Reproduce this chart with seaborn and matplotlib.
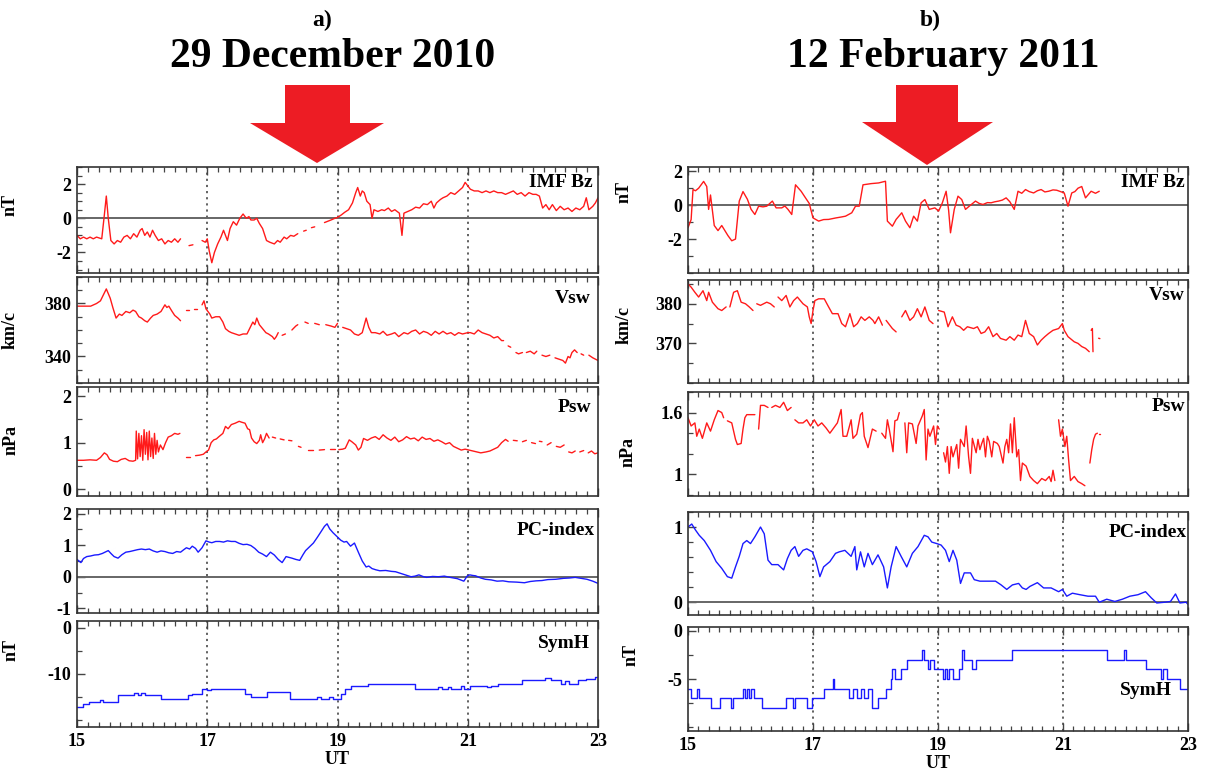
import numpy as np
import pandas as pd
import matplotlib
matplotlib.use('Agg')
import matplotlib.pyplot as plt
import seaborn as sns
from matplotlib.patches import Polygon
from matplotlib.ticker import FixedLocator, MultipleLocator, FuncFormatter

G = (np.nan, np.nan)  # data gap

# ---------------- a) 29 December 2010 ----------------
A_IMF = [(15.00,-1.0),(15.05,-1.2),(15.10,-1.1),(15.15,-1.2),(15.20,-1.1),(15.25,-1.2),(15.30,-1.1),
         (15.38,-1.2),(15.42,0.2),(15.45,1.3),(15.48,0.0),(15.52,-1.3),(15.57,-1.5),(15.62,-1.3),
         (15.67,-1.4),(15.72,-1.1),(15.77,-1.0),(15.82,-1.2),(15.87,-0.9),(15.92,-1.1),(15.97,-0.7),
         (16.00,-0.6),(16.04,-1.0),(16.08,-0.8),(16.12,-1.1),(16.16,-0.7),(16.20,-1.0),(16.25,-1.3),
         (16.30,-1.2),(16.35,-1.5),(16.40,-1.3),(16.45,-1.4),(16.50,-1.2),(16.55,-1.4),(16.59,-1.2),G,
         (16.72,-1.6),(16.78,-1.55),G,
         (16.92,-1.3),(16.97,-1.4),(17.00,-1.2),(17.03,-1.9),(17.07,-2.6),(17.11,-2.0),(17.16,-1.5),
         (17.21,-1.1),(17.25,-0.7),(17.28,-1.0),(17.31,-1.3),(17.35,-0.6),(17.40,-0.2),(17.45,-0.4),
         (17.50,0.0),(17.55,0.25),(17.60,0.0),(17.64,0.1),(17.67,-0.1),(17.72,-0.1),(17.76,0.0),
         (17.80,-0.3),(17.85,-0.6),(17.91,-1.3),(17.96,-1.4),(18.03,-1.5),(18.08,-1.3),(18.12,-1.4),
         (18.18,-1.1),(18.22,-1.2),(18.28,-1.0),(18.33,-1.05),(18.39,-0.9),G,
         (18.48,-0.75),(18.52,-0.7),G,(18.60,-0.55),(18.65,-0.5),G,
         (18.80,-0.25),(18.90,-0.1),(18.96,0.0),(19.00,0.05),(19.06,0.2),(19.11,0.35),(19.17,0.5),
         (19.23,0.9),(19.28,1.5),(19.31,1.8),(19.35,1.3),(19.38,1.6),(19.41,1.5),(19.45,1.0),
         (19.50,0.8),(19.53,0.0),(19.56,0.5),(19.62,0.4),(19.68,0.5),(19.72,0.45),(19.78,0.6),
         (19.83,0.4),(19.88,0.5),(19.95,0.3),(19.99,-1.0),(20.02,0.3),(20.08,0.4),(20.14,0.5),
         (20.20,0.65),(20.26,0.6),(20.32,0.85),(20.38,0.8),(20.44,1.0),(20.48,0.6),(20.52,0.9),
         (20.58,1.1),(20.62,1.2),(20.68,1.3),(20.74,1.5),(20.80,1.4),(20.86,1.6),(20.92,1.8),
         (20.96,2.1),(21.00,1.9),(21.04,1.7),(21.10,1.6),(21.16,1.6),(21.22,1.5),(21.28,1.6),
         (21.34,1.5),(21.40,1.6),(21.46,1.5),(21.52,1.5),(21.58,1.4),(21.64,1.5),(21.70,1.6),
         (21.76,1.4),(21.82,1.5),(21.88,1.3),(21.94,1.5),(22.00,1.4),(22.05,1.4),(22.10,1.3),
         (22.15,0.6),(22.20,0.8),(22.25,0.5),(22.30,0.8),(22.36,0.45),(22.42,0.7),(22.48,0.5),
         (22.54,0.6),(22.60,0.4),(22.66,0.6),(22.72,0.5),(22.78,0.7),(22.82,1.2),(22.86,0.5),
         (22.92,0.7),(22.96,0.9),(23.00,1.2)]

A_VSW = [(15.00,378),(15.10,378),(15.21,378),(15.30,380),(15.36,382),(15.45,391),(15.51,384),
         (15.55,377),(15.60,369),(15.65,372),(15.69,371),(15.75,374),(15.81,373),(15.86,375),
         (15.90,374),(15.95,370),(15.99,369),(16.04,367),(16.08,366),(16.13,369),(16.17,371),
         (16.23,372),(16.29,374),(16.35,379),(16.38,377),(16.41,378),(16.46,374),(16.50,371),
         (16.55,369),(16.59,367),G,(16.68,375),(16.72,375),G,(16.80,376),(16.84,376),G,
         (16.92,379),(16.95,382),(16.98,376),(17.01,374),(17.04,372),(17.07,369),(17.13,370),
         (17.19,370),(17.24,366),(17.28,361),(17.33,359),(17.37,358),(17.43,357),(17.49,356),
         (17.55,357),(17.61,357),(17.66,362),(17.70,366),(17.73,364),(17.76,369),(17.80,364),
         (17.85,361),(17.90,358),(17.94,357),(18.00,355),(18.03,353),(18.06,355),(18.09,358),G,
         (18.15,356),(18.20,357),G,(18.30,360),(18.36,363),(18.39,364),G,(18.50,366),(18.55,365),G,
         (18.65,365),(18.72,364),G,(18.82,364),(18.90,363),(18.96,362),(19.00,365),G,
         (19.08,362),(19.14,361),(19.20,360),(19.26,357),(19.32,356),(19.38,358),(19.44,369),
         (19.48,362),(19.52,358),(19.58,358),(19.65,357),(19.70,359),(19.76,356),(19.83,357),
         (19.88,358),(19.94,355),(20.02,358),(20.08,357),(20.14,359),(20.20,360),(20.26,357),
         (20.32,359),(20.38,358),(20.44,356),(20.50,359),(20.56,357),(20.62,359),(20.68,357),
         (20.74,358),(20.80,356),(20.86,358),(20.92,357),(21.00,358),(21.04,358),(21.10,357),
         (21.16,360),(21.22,358),(21.28,357),(21.34,356),(21.40,354),(21.46,355),(21.52,352),
         (21.55,352),G,(21.62,348),(21.66,347),G,(21.74,343),(21.78,342),(21.84,343),G,
         (21.90,343),(21.96,344),(22.02,342),(22.06,344),G,(22.14,341),(22.20,340),(22.26,341),G,
         (22.34,339),(22.40,338),(22.46,337),(22.50,335),(22.54,340),(22.57,339),(22.60,343),
         (22.64,345),(22.68,343),G,(22.74,342),(22.78,341),G,(22.86,341),(22.92,339),(22.96,338),
         (23.00,337)]

A_PSW = [(15.00,0.62),(15.10,0.62),(15.20,0.63),(15.30,0.62),(15.36,0.68),(15.42,0.78),(15.46,0.74),
         (15.50,0.64),(15.56,0.60),(15.62,0.59),(15.68,0.64),(15.74,0.66),(15.80,0.61),(15.86,0.60),
         (15.90,0.62),(15.91,1.25),(15.93,0.65),(15.95,1.20),(15.97,0.70),(15.99,1.15),(16.01,0.62),
         (16.03,1.28),(16.05,0.75),(16.07,1.22),(16.09,0.63),(16.11,1.25),(16.13,0.70),(16.15,1.10),
         (16.17,0.66),(16.19,1.20),(16.21,0.75),(16.23,1.05),(16.25,0.80),(16.28,0.95),(16.32,0.85),
         (16.36,1.00),(16.40,1.12),(16.45,1.15),(16.50,1.20),(16.55,1.18),(16.58,1.20),G,
         (16.68,0.70),(16.74,0.70),G,(16.82,0.72),(16.88,0.73),(16.94,0.75),(16.98,0.80),(17.02,0.84),
         (17.06,1.00),(17.10,1.06),(17.14,1.08),(17.18,1.13),(17.24,1.20),(17.28,1.35),(17.32,1.30),
         (17.37,1.39),(17.43,1.42),(17.49,1.46),(17.53,1.44),(17.58,1.42),(17.62,1.30),(17.65,1.28),
         (17.68,1.10),(17.72,1.02),(17.76,0.98),(17.80,1.05),(17.82,1.17),(17.85,1.00),(17.88,1.08),
         (17.91,1.20),(17.95,1.10),G,(18.00,1.12),(18.05,1.10),G,(18.12,1.08),(18.18,1.06),G,
         (18.25,1.05),(18.30,1.04),G,(18.40,0.92),(18.44,0.90),G,(18.55,0.85),(18.62,0.85),G,
         (18.72,0.84),(18.80,0.85),G,(18.88,0.86),(18.96,0.86),G,(19.02,0.85),(19.08,0.86),
         (19.12,0.88),(19.18,1.06),(19.22,1.02),(19.28,0.95),(19.32,0.84),(19.36,0.90),(19.40,1.09),
         (19.46,1.05),(19.52,1.10),(19.58,1.13),(19.64,1.07),(19.70,1.17),(19.76,1.10),(19.82,1.05),
         (19.88,1.12),(19.94,1.02),(20.00,1.06),(20.06,1.13),(20.12,1.08),(20.18,1.10),(20.24,1.04),
         (20.30,1.12),(20.36,1.07),(20.42,1.09),(20.48,1.03),(20.54,1.06),(20.60,1.02),(20.66,0.97),
         (20.72,1.00),(20.78,0.92),(20.84,0.88),(20.90,0.84),(20.96,0.86),(21.02,0.84),(21.08,0.82),
         (21.14,0.80),(21.20,0.78),(21.28,0.80),(21.34,0.82),(21.40,0.86),(21.46,0.90),(21.52,1.00),
         (21.58,1.07),(21.62,1.03),G,(21.70,1.05),(21.76,1.04),G,(21.84,1.02),(21.90,1.05),G,
         (21.98,1.00),(22.04,0.98),G,(22.10,1.03),(22.14,1.02),G,(22.22,0.95),(22.28,1.00),G,
         (22.36,0.92),(22.42,0.90),(22.48,0.95),G,(22.55,0.80),(22.60,0.78),(22.65,0.82),G,
         (22.72,0.80),(22.78,0.83),G,(22.85,0.78),(22.90,0.82),(22.95,0.76),(23.00,0.78)]

A_PC = [(15.00,0.55),(15.06,0.45),(15.10,0.58),(15.15,0.64),(15.21,0.66),(15.27,0.69),(15.33,0.70),
        (15.39,0.74),(15.44,0.79),(15.48,0.83),(15.53,0.72),(15.57,0.64),(15.63,0.59),(15.69,0.70),
        (15.75,0.78),(15.81,0.80),(15.87,0.83),(15.93,0.86),(15.99,0.88),(16.05,0.86),(16.11,0.88),
        (16.17,0.82),(16.23,0.78),(16.29,0.82),(16.35,0.80),(16.41,0.76),(16.47,0.74),(16.53,0.80),
        (16.59,0.78),(16.64,0.86),(16.68,0.92),(16.73,0.88),(16.77,0.97),(16.82,0.90),(16.86,0.78),
        (16.92,0.92),(16.98,1.14),(17.03,1.10),(17.07,1.08),(17.13,1.12),(17.19,1.12),(17.25,1.10),
        (17.31,1.14),(17.37,1.12),(17.43,1.12),(17.49,1.06),(17.55,1.02),(17.61,1.03),(17.67,0.99),
        (17.73,0.90),(17.79,0.78),(17.85,0.72),(17.91,0.64),(17.97,0.78),(18.03,0.69),(18.09,0.55),
        (18.15,0.45),(18.21,0.64),(18.30,0.59),(18.36,0.55),(18.42,0.52),(18.47,0.70),(18.51,0.83),
        (18.57,0.95),(18.63,1.07),(18.69,1.25),(18.75,1.44),(18.80,1.60),(18.84,1.68),(18.88,1.52),
        (18.93,1.40),(18.99,1.28),(19.05,1.16),(19.10,1.10),(19.14,1.12),(19.20,0.97),(19.26,1.07),
        (19.32,0.78),(19.38,0.50),(19.44,0.31),(19.48,0.34),(19.53,0.26),(19.59,0.22),(19.65,0.19),
        (19.74,0.20),(19.83,0.17),(19.89,0.16),(19.95,0.12),(20.04,0.06),(20.13,0.00),(20.19,0.02),
        (20.25,0.06),(20.31,0.01),(20.37,-0.02),(20.46,0.01),(20.55,0.00),(20.64,0.02),(20.73,-0.02),
        (20.84,-0.06),(20.94,-0.14),(20.99,0.02),(21.03,0.06),(21.08,0.04),(21.12,0.03),(21.20,-0.04),
        (21.27,-0.08),(21.36,-0.10),(21.45,-0.14),(21.54,-0.13),(21.63,-0.16),(21.75,-0.17),
        (21.87,-0.19),(21.96,-0.15),(22.05,-0.13),(22.14,-0.12),(22.23,-0.09),(22.35,-0.08),
        (22.47,-0.05),(22.56,-0.04),(22.65,-0.02),(22.74,-0.05),(22.83,-0.08),(22.92,-0.14),
        (23.00,-0.21)]

A_SYMH = [(15.00,-17.1),(15.09,-16.6),(15.18,-16.1),(15.36,-15.7),(15.40,-16.1),(15.63,-14.6),
          (15.87,-14.1),(15.93,-14.6),(15.99,-14.1),(16.05,-14.6),(16.29,-15.4),(16.71,-14.6),
          (16.77,-14.3),(16.92,-13.2),(17.00,-13.5),(17.05,-13.2),(17.58,-14.3),(17.67,-15.0),
          (17.91,-13.9),(18.27,-15.5),(18.69,-15.0),(18.75,-15.5),(18.87,-15.0),(18.93,-15.5),
          (19.05,-14.3),(19.11,-13.2),(19.20,-12.5),(19.47,-12.1),(20.19,-13.2),(20.55,-12.9),
          (20.60,-13.2),(20.70,-12.9),(20.75,-13.2),(20.90,-12.5),(20.95,-13.2),(21.03,-12.5),
          (21.30,-12.9),(21.35,-12.5),(21.47,-12.1),(21.83,-11.4),(22.19,-10.9),(22.28,-11.4),
          (22.43,-12.1),(22.50,-11.6),(22.55,-12.1),(22.70,-11.4),(22.82,-11.0),(22.95,-10.7),
          (23.00,-10.7)]

# ---------------- b) 12 February 2011 ----------------
B_IMF = [(15.00,-1.33),(15.05,-0.85),(15.08,0.92),(15.12,0.85),(15.17,1.0),(15.21,1.2),(15.25,1.4),
         (15.30,1.1),(15.33,-0.25),(15.36,0.6),(15.42,-1.2),(15.48,-1.5),(15.54,-1.2),(15.59,-1.5),
         (15.64,-1.8),(15.70,-2.1),(15.76,-2.0),(15.82,0.24),(15.88,0.8),(15.95,0.35),(16.01,-0.25),
         (16.07,-0.55),(16.13,-0.06),(16.20,-0.1),(16.26,-0.06),(16.35,0.24),(16.41,-0.16),
         (16.50,-0.16),(16.55,-0.05),(16.60,-0.25),(16.66,-0.55),(16.72,1.2),(16.81,0.82),
         (16.88,0.43),(16.94,0.1),(17.00,-0.75),(17.09,-0.94),(17.17,-0.85),(17.25,-0.84),
         (17.37,-0.75),(17.45,-0.7),(17.52,-0.65),(17.62,-0.45),(17.68,-0.06),(17.74,-0.06),
         (17.80,1.2),(17.93,1.27),(18.05,1.31),(18.16,1.41),(18.19,-0.94),(18.27,-1.24),
         (18.33,-0.84),(18.42,-0.45),(18.48,-0.94),(18.55,-1.33),(18.61,-0.65),(18.67,-0.94),
         (18.73,0.14),(18.79,0.33),(18.86,-0.25),(18.95,-0.16),(19.01,-0.35),(19.07,0.14),
         (19.13,0.82),(19.17,-0.3),(19.20,-1.63),(19.26,-0.25),(19.32,0.53),(19.38,0.33),
         (19.44,-0.25),(19.50,-0.06),(19.60,0.24),(19.66,0.1),(19.72,0.04),(19.79,0.15),
         (19.85,0.14),(19.91,0.2),(19.97,0.24),(20.03,0.3),(20.09,0.43),(20.15,0.2),(20.19,-0.06),
         (20.22,-0.25),(20.28,0.82),(20.34,0.7),(20.40,0.92),(20.46,0.8),(20.53,0.72),(20.59,0.85),
         (20.65,0.92),(20.71,0.78),(20.77,0.82),(20.84,0.9),(20.90,0.88),(20.96,0.8),(21.02,0.72),
         (21.08,-0.06),(21.14,0.72),(21.19,0.8),(21.24,1.0),(21.30,1.1),(21.36,0.43),(21.45,0.82),
         (21.52,0.7),(21.58,0.82)]

B_VSW = [(15.00,385.0),(15.05,384.2),(15.11,382.9),(15.17,381.7),(15.24,383.3),(15.30,380.8),
         (15.33,382.9),(15.39,380.4),(15.48,378.75),(15.54,378.3),(15.61,379.2),G,
         (15.67,379.2),(15.73,382.9),(15.79,383.3),(15.85,380.4),(15.92,380.0),(15.98,379.2),
         (16.04,378.3),G,(16.10,380.0),(16.16,379.6),(16.26,380.4),(16.32,380.0),(16.38,379.2),G,
         (16.44,381.7),(16.50,380.8),(16.57,382.1),(16.63,379.2),(16.69,380.8),(16.75,381.7),
         (16.84,380.0),(16.91,379.2),(16.94,376.7),(16.97,375.0),(17.00,378.3),(17.03,380.8),
         (17.09,381.25),(17.18,381.25),(17.25,379.2),(17.31,377.5),(17.40,377.5),(17.46,375.0),
         (17.52,374.2),(17.59,377.5),(17.65,374.2),(17.71,375.0),(17.77,376.7),(17.83,375.8),
         (17.90,376.7),(17.96,375.8),(17.99,375.0),(18.05,376.7),(18.11,374.6),G,
         (18.17,375.8),(18.27,373.75),(18.33,372.9),G,(18.42,376.7),(18.48,378.3),(18.55,375.8),
         (18.61,376.7),(18.67,378.75),(18.73,376.7),(18.79,379.2),(18.86,375.8),(18.92,375.0),G,
         (19.01,378.3),(19.10,377.9),(19.16,374.2),(19.23,376.7),(19.29,374.6),(19.35,374.2),
         (19.41,373.3),(19.47,374.2),(19.57,373.75),(19.63,374.2),(19.69,372.5),(19.75,372.9),
         (19.81,374.2),(19.88,371.7),(19.94,372.5),(20.00,371.25),(20.09,370.8),(20.15,371.7),
         (20.22,370.8),(20.28,372.1),(20.34,371.7),(20.40,375.8),(20.46,372.5),(20.53,371.7),
         (20.59,369.6),(20.65,370.8),(20.71,371.7),(20.77,372.5),(20.84,373.3),(20.93,373.75),
         (20.99,375.0),(21.02,373.3),(21.08,371.7),(21.18,370.4),(21.24,370.0),(21.30,369.2),
         (21.36,368.75),(21.42,367.9),G,(21.45,373.3),(21.47,373.75),(21.48,367.9),G,
         (21.57,371.3),(21.59,371.2)]

B_PSW = [(15.00,1.55),(15.05,1.47),(15.11,1.50),(15.14,1.37),(15.18,1.44),(15.23,1.35),(15.30,1.50),
         (15.36,1.42),(15.42,1.53),(15.48,1.62),(15.54,1.60),(15.57,1.55),G,(15.63,1.52),
         (15.70,1.50),(15.76,1.34),(15.79,1.29),(15.85,1.30),(15.88,1.44),(15.91,1.55),(15.94,1.58),
         (16.00,1.58),(16.07,1.58),G,(16.13,1.44),(16.16,1.67),(16.22,1.67),(16.28,1.65),G,
         (16.34,1.65),(16.40,1.67),(16.47,1.65),(16.53,1.70),(16.59,1.62),(16.65,1.65),G,
         (16.71,1.53),(16.77,1.50),(16.84,1.50),(16.90,1.53),(16.96,1.47),(17.02,1.53),(17.08,1.47),
         (17.14,1.50),(17.21,1.45),(17.27,1.40),(17.33,1.45),(17.39,1.50),(17.45,1.63),(17.48,1.37),
         (17.54,1.37),(17.61,1.53),(17.64,1.35),(17.70,1.39),(17.76,1.58),(17.79,1.60),(17.82,1.37),
         (17.88,1.26),(17.95,1.44),(18.01,1.42),G,(18.10,1.40),(18.16,1.35),(18.19,1.53),
         (18.22,1.44),(18.28,1.22),(18.31,1.52),(18.35,1.53),(18.38,1.60),G,(18.47,1.50),
         (18.50,1.21),(18.53,1.50),(18.59,1.49),(18.65,1.30),(18.68,1.47),(18.75,1.57),(18.78,1.63),
         (18.81,1.14),(18.84,1.44),(18.87,1.37),(18.93,1.47),(18.96,1.29),(18.99,1.47),(19.02,1.44),G,
         (19.09,1.21),(19.12,1.12),(19.15,1.27),(19.18,1.01),(19.21,1.27),(19.24,1.17),(19.30,1.29),
         (19.33,1.06),(19.36,1.34),(19.42,1.27),(19.45,1.47),(19.49,1.17),(19.52,1.01),(19.55,1.35),
         (19.61,1.21),(19.64,1.34),(19.67,1.24),(19.70,1.30),(19.73,1.35),(19.76,1.17),(19.79,1.37),
         (19.82,1.32),(19.86,1.17),(19.89,1.32),(19.95,1.30),(19.98,1.27),(20.04,1.11),(20.07,1.27),
         (20.10,1.34),(20.13,1.21),(20.16,1.49),(20.19,1.21),(20.22,1.55),(20.26,1.17),(20.29,1.24),
         (20.32,0.94),(20.35,1.11),(20.41,1.08),(20.47,0.98),(20.53,0.94),(20.59,0.91),(20.66,0.96),
         (20.72,0.94),(20.78,0.98),(20.81,0.93),(20.84,1.04),(20.87,0.94),G,(20.93,1.53),
         (20.96,1.37),(20.99,1.44),(21.03,1.27),(21.06,1.37),(21.09,1.14),(21.12,0.94),(21.18,0.98),
         (21.24,0.93),(21.30,0.91),(21.35,0.89),G,(21.43,1.11),(21.46,1.24),(21.49,1.34),
         (21.52,1.39),(21.55,1.40),G,(21.57,1.39),(21.59,1.39)]

B_PC = [(15.00,1.00),(15.06,1.04),(15.12,0.96),(15.18,0.89),(15.26,0.82),(15.36,0.69),(15.45,0.54),
        (15.54,0.45),(15.63,0.34),(15.70,0.32),(15.76,0.47),(15.82,0.61),(15.88,0.78),(15.94,0.82),
        (16.00,0.78),(16.07,0.87),(16.16,1.00),(16.22,0.91),(16.28,0.56),(16.34,0.50),(16.44,0.50),
        (16.53,0.43),(16.59,0.58),(16.65,0.69),(16.71,0.74),(16.77,0.61),(16.84,0.69),(16.90,0.71),
        (16.99,0.67),(17.05,0.54),(17.11,0.34),(17.17,0.47),(17.27,0.54),(17.36,0.65),(17.42,0.67),
        (17.51,0.69),(17.61,0.61),(17.67,0.74),(17.70,0.43),(17.76,0.67),(17.82,0.47),(17.88,0.65),
        (17.95,0.50),(18.04,0.63),(18.13,0.47),(18.19,0.19),(18.25,0.47),(18.33,0.74),(18.41,0.61),
        (18.50,0.47),(18.59,0.65),(18.68,0.74),(18.78,0.89),(18.84,0.87),(18.90,0.80),(18.98,0.78),
        (19.05,0.76),(19.12,0.69),(19.18,0.54),(19.24,0.69),(19.30,0.56),(19.36,0.25),(19.42,0.39),
        (19.52,0.39),(19.58,0.30),(19.67,0.28),(19.79,0.28),(19.92,0.28),(20.01,0.23),(20.10,0.17),
        (20.19,0.23),(20.29,0.25),(20.35,0.19),(20.41,0.17),(20.47,0.21),(20.59,0.26),(20.69,0.19),
        (20.81,0.19),(20.93,0.14),(20.99,0.17),(21.06,0.08),(21.15,0.12),(21.27,0.10),(21.40,0.08),
        (21.52,0.08),(21.58,0.00),(21.70,0.04),(21.83,0.01),(21.95,0.04),(22.07,0.08),(22.20,0.10),
        (22.32,0.14),(22.41,0.06),(22.50,-0.01),(22.63,0.00),(22.72,0.01),(22.80,0.11),(22.87,-0.01),
        (22.97,0.00),(23.00,-0.03)]

B_SYMH = [(15.00,-6),(15.05,-7),(15.14,-6),(15.17,-7),(15.36,-8),(15.51,-7),(15.69,-8),(15.72,-7),
          (15.88,-6),(15.91,-7),(15.94,-6),(15.97,-7),(16.00,-6),(16.06,-7),(16.19,-8),(16.56,-7),
          (16.68,-8),(16.71,-7),(16.90,-8),(16.99,-7),(17.18,-6),(17.32,-5),(17.34,-6),(17.58,-7),
          (17.64,-6),(17.70,-7),(17.76,-6),(17.82,-7),(17.88,-6),(17.94,-8),(18.04,-7),(18.16,-6),
          (18.25,-5),(18.27,-4),(18.31,-5),(18.41,-4),(18.50,-3),(18.75,-2),(18.78,-3),(18.84,-4),
          (18.87,-3),(18.93,-4),(19.08,-5),(19.11,-4),(19.14,-5),(19.17,-4),(19.24,-5),(19.33,-4),
          (19.39,-2),(19.42,-3),(19.54,-4),(19.60,-3),(20.19,-2),(21.70,-3),(21.98,-2),(22.01,-3),
          (22.32,-4),(22.57,-5),(22.60,-4),(22.66,-5),(22.87,-6),(23.00,-6)]

PANEL_NAMES = ['IMF Bz', 'Vsw', 'Psw', 'PC-index', 'SymH']
UNITS = ['nT', 'km/c', 'nPa', '', 'nT']
HOUR_TICKS = [15, 17, 19, 21, 23]
MARK_HOURS = [17, 19, 21]

RED = '#ff1a1a'
BLUE = '#1a1aff'

sns.set_theme(style='ticks')
plt.rcParams['font.family'] = ['Liberation Serif', 'DejaVu Serif']
plt.rcParams['font.weight'] = 'bold'
plt.rcParams['axes.unicode_minus'] = False
plt.rcParams['text.color'] = 'black'
plt.rcParams['axes.labelcolor'] = 'black'
plt.rcParams['xtick.color'] = 'black'
plt.rcParams['ytick.color'] = 'black'

W, H = 1205, 773
fig = plt.figure(figsize=(W / 100, H / 100), dpi=100)


def rect(x0, x1, y0, y1):
    return [x0 / W, 1 - y1 / H, (x1 - x0) / W, (y1 - y0) / H]


def draw(ax, pts, color, steps=False):
    arr = np.array(pts, dtype=float)
    seg = np.cumsum(np.isnan(arr[:, 1]))
    df = pd.DataFrame({'UT': arr[:, 0], 'val': arr[:, 1], 'seg': seg}).dropna()
    kw = {'drawstyle': 'steps-post'} if steps else {}
    sns.lineplot(data=df, x='UT', y='val', units='seg', estimator=None, color=color,
                 lw=1.0, ax=ax, legend=False, **kw)


def style(ax, ylim, major, minor, zero=False, bottom=False):
    ax.set_xlim(15, 23)
    ax.set_ylim(*ylim)
    ax.xaxis.set_major_locator(FixedLocator(HOUR_TICKS))
    ax.xaxis.set_minor_locator(MultipleLocator(1 / 6))
    ax.yaxis.set_major_locator(FixedLocator(major))
    ax.yaxis.set_minor_locator(MultipleLocator(minor))
    ax.yaxis.set_major_formatter(FuncFormatter(lambda v, p: f'{v:g}'))
    ax.tick_params(axis='x', which='both', direction='in', top=True, bottom=True,
                   labelbottom=bottom, pad=4)
    ax.tick_params(axis='y', which='both', direction='in', left=True, right=False, pad=4)
    ax.tick_params(which='major', length=6, width=1.0, color='#444')
    ax.tick_params(which='minor', length=3.5, width=0.9, color='#444')
    ax.tick_params(labelsize=13, labelcolor='black')
    for s in ax.spines.values():
        s.set_visible(True)
        s.set_color('#333')
        s.set_linewidth(1.2)
    for h in MARK_HOURS:
        ax.axvline(h, color='#555', ls=(0, (1.2, 2.2)), lw=1.3, zorder=0)
    if zero:
        ax.axhline(0, color='#666', lw=1.4, zorder=1)
    ax.set_xlabel('')
    ax.set_ylabel('')


LEFT = dict(x=(77, 598), rows=[(167, 273), (277, 383), (387, 496), (509, 613), (621, 727)],
            data=[A_IMF, A_VSW, A_PSW, A_PC, A_SYMH],
            ylims=[(-3.2, 3.0), (320, 400), (-0.15, 2.2), (-1.15, 2.15), (-21.5, 1.5)],
            majors=[[-2, 0, 2], [340, 380], [0, 1, 2], [-1, 0, 1, 2], [-10, 0]],
            minors=[0.5, 10, 0.5, 0.5, 5],
            lab_pos=[(0.990, 0.85), (0.985, 0.80), (0.988, 0.81), (0.994, 0.79), (0.985, 0.79)],
            unit_pos=[(-0.113, 0.64), (-0.113, 0.50), (-0.110, 0.51), None, (-0.110, 0.73)])
RIGHT = dict(x=(688, 1188), rows=[(167, 273), (280, 383), (392, 496), (512, 615), (627, 731)],
             data=[B_IMF, B_VSW, B_PSW, B_PC, B_SYMH],
             ylims=[(-4.0, 2.25), (360, 386), (0.79, 1.8), (-0.17, 1.2), (-10.4, 0.4)],
             majors=[[-2, 0, 2], [370, 380], [1.0, 1.6], [0, 1], [-5, 0]],
             minors=[1, 5, 0.2, 0.2, 2.5],
             lab_pos=[(0.994, 0.85), (0.994, 0.845), (0.994, 0.865), (0.998, 0.80), (0.968, 0.39)],
             unit_pos=[(-0.11, 0.76), (-0.11, 0.56), (-0.102, 0.42), None, (-0.096, 0.73)])

for side in (LEFT, RIGHT):
    x0, x1 = side['x']
    for i, (y0, y1) in enumerate(side['rows']):
        ax = fig.add_axes(rect(x0, x1, y0, y1))
        color = RED if i < 3 else BLUE
        draw(ax, side['data'][i], color, steps=(i == 4))
        style(ax, side['ylims'][i], side['majors'][i], side['minors'][i],
              zero=(i in (0, 3)), bottom=(i == 4))
        lx, ly = side['lab_pos'][i]
        ax.text(lx, ly, PANEL_NAMES[i], transform=ax.transAxes, ha='right', va='center',
                fontsize=14, fontweight='bold', color='black')
        if side['unit_pos'][i] is not None:
            ax.set_ylabel(UNITS[i], fontsize=13, fontweight='bold', color='black')
            ax.yaxis.set_label_coords(*side['unit_pos'][i])
        if i == 4:
            ax.set_xlabel('UT', fontsize=13, fontweight='bold', color='black', labelpad=1)

# titles
fig.text(322 / W, 1 - 20 / H, 'a)', ha='center', va='center', fontsize=17, fontweight='bold')
fig.text(333 / W, 1 - 57 / H, '29 December 2010', ha='center', va='center', fontsize=30,
         fontweight='bold')
fig.text(930 / W, 1 - 20 / H, 'b)', ha='center', va='center', fontsize=17, fontweight='bold')
fig.text(943 / W, 1 - 57 / H, '12 February 2011', ha='center', va='center', fontsize=30,
         fontweight='bold')

# red arrows (decoration)
ARROW_L = [(285, 85), (350, 85), (350, 123), (384, 123), (317, 163), (250, 123), (285, 123)]
ARROW_R = [(896, 85), (958, 85), (958, 122), (993, 122), (927, 165), (862, 122), (896, 122)]
for poly in (ARROW_L, ARROW_R):
    verts = [(px / W, 1 - py / H) for px, py in poly]
    fig.patches.append(Polygon(verts, closed=True, transform=fig.transFigure,
                               facecolor='#ed1c24', edgecolor='none'))

fig.savefig('out.png', dpi=100, facecolor='white')
